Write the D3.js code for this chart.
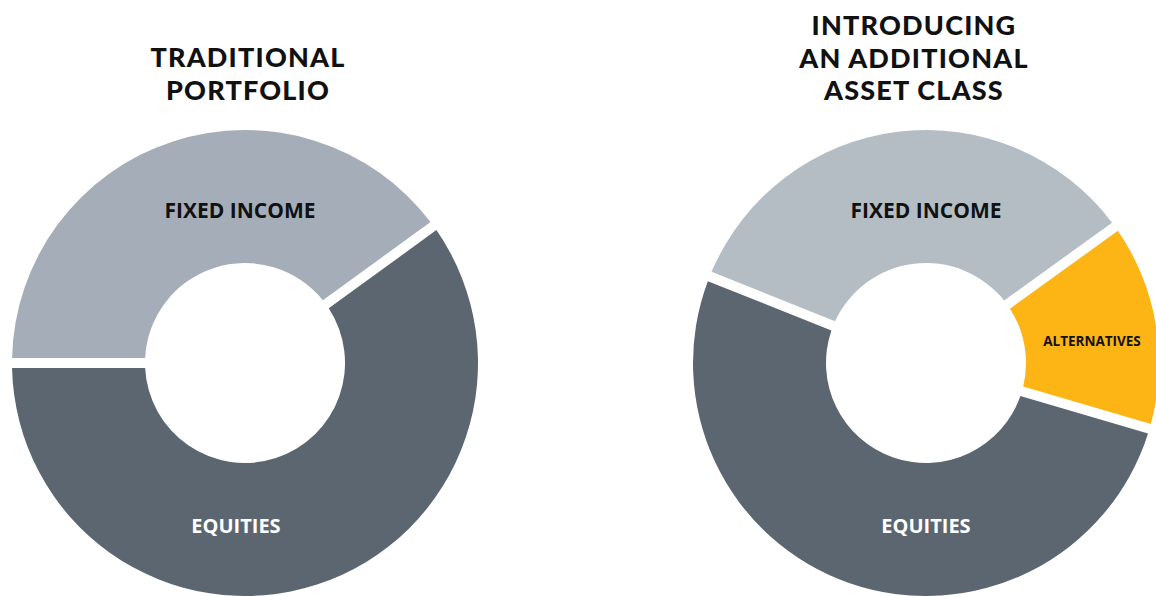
<!DOCTYPE html>
<html lang="en">
<head>
    <meta charset="UTF-8">
    <title>Portfolio Donuts</title>
    <script src="https://d3js.org/d3.v7.min.js"></script>
    <style>
        html, body { margin: 0; padding: 0; background: #fff; }
        svg { display: block; }
    </style>
</head>
<body>
    <div id="chart"></div>
    <script>
        // Chart data
        const leftTitle = ["TRADITIONAL", "PORTFOLIO"];
        const leftCategories = ["FIXED INCOME", "EQUITIES"];
        const leftValues = [40, 60];
        const leftColors = ["#a5aeb8", "#5c6670"];

        const rightTitle = ["INTRODUCING", "AN ADDITIONAL", "ASSET CLASS"];
        const rightCategories = ["FIXED INCOME", "ALTERNATIVES", "EQUITIES"];
        const rightValues = [34, 14.5, 51.5];
        const rightColors = ["#b5bdc4", "#fdb515", "#5c6670"];

        const width = 1156;
        const height = 596;
        const outerR = 233;
        const innerR = 100;
        const gap = 10;

        const svg = d3.select("#chart")
            .append("svg")
            .attr("width", width)
            .attr("height", height);

        const arc = d3.arc()
            .innerRadius(innerR)
            .outerRadius(outerR)
            .padRadius(outerR)
            .padAngle(gap / outerR);

        function donut(cfg) {
            const g = svg.append("g")
                .attr("transform", `translate(${cfg.cx},${cfg.cy})`);

            const pie = d3.pie()
                .sort(null)
                .value(d => d.value)
                .startAngle(cfg.start)
                .endAngle(cfg.start + 2 * Math.PI);

            const data = cfg.categories.map((c, i) => ({ name: c, value: cfg.values[i], color: cfg.colors[i] }));
            const arcs = pie(data);

            g.selectAll("path")
                .data(arcs)
                .join("path")
                .attr("d", arc)
                .attr("fill", d => d.data.color);

            // slice labels
            g.selectAll("text.lbl")
                .data(arcs)
                .join("text")
                .attr("class", "lbl")
                .attr("x", d => cfg.labels[d.data.name].dx)
                .attr("y", d => cfg.labels[d.data.name].dy)
                .attr("text-anchor", "middle")
                .attr("font-family", "'Open Sans', sans-serif")
                .attr("font-weight", 700)
                .attr("font-size", d => cfg.labels[d.data.name].size)
                .attr("fill", d => cfg.labels[d.data.name].fill)
                .text(d => d.data.name);

            // title, one text per line
            svg.append("g")
                .selectAll("text")
                .data(cfg.title)
                .join("text")
                .attr("x", cfg.tx)
                .attr("y", (d, i) => cfg.ty + i * 32.5)
                .attr("text-anchor", "middle")
                .attr("font-family", "Lato, sans-serif")
                .attr("font-weight", 900)
                .attr("font-size", 27)
                .attr("letter-spacing", 1.2)
                .attr("fill", "#111")
                .text(d => d);
        }

        donut({
            cx: 245, cy: 363,
            start: -Math.PI / 2,
            categories: leftCategories,
            values: leftValues,
            colors: leftColors,
            title: leftTitle,
            tx: 248, ty: 67,
            labels: {
                "FIXED INCOME": { dx: -5, dy: -145, size: 21, fill: "#111" },
                "EQUITIES": { dx: -9, dy: 170, size: 20, fill: "#fff" }
            }
        });

        donut({
            cx: 926, cy: 363,
            start: -68.2 * Math.PI / 180,
            categories: rightCategories,
            values: rightValues,
            colors: rightColors,
            title: rightTitle,
            tx: 914, ty: 35,
            labels: {
                "FIXED INCOME": { dx: 0, dy: -145, size: 21, fill: "#111" },
                "ALTERNATIVES": { dx: 166, dy: -17, size: 13.5, fill: "#111" },
                "EQUITIES": { dx: 0, dy: 170, size: 20, fill: "#fff" }
            }
        });
    </script>
</body>
</html>
